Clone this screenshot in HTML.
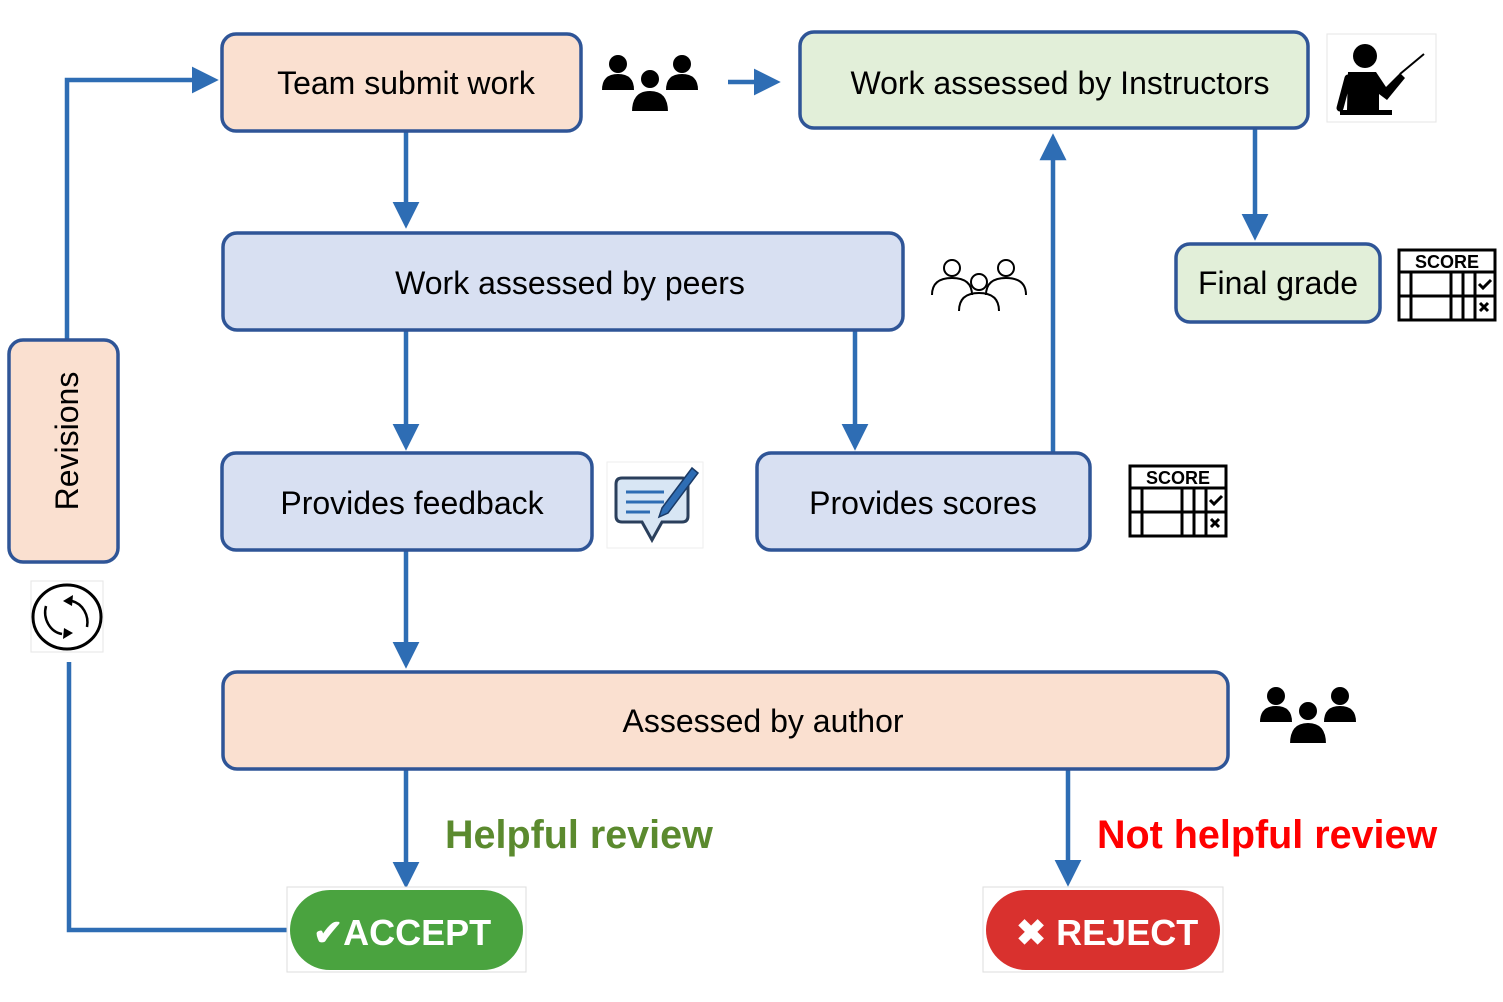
<!DOCTYPE html>
<html><head><meta charset="utf-8"><style>
html,body{margin:0;padding:0;background:#fff;}
svg{display:block;font-family:"Liberation Sans",Arial,sans-serif;}
</style></head><body>
<svg width="1503" height="1002" viewBox="0 0 1503 1002" xmlns="http://www.w3.org/2000/svg">
<defs>
<marker id="ah" markerWidth="6" markerHeight="6" refX="4.5" refY="3" orient="auto" markerUnits="strokeWidth"><path d="M0,0 L6,3 L0,6 z" fill="#2e6db4"/></marker>
<g id="score">
<rect x="0" y="0" width="96" height="70" fill="#fff" stroke="#000" stroke-width="3"/>
<line x1="0" y1="22" x2="96" y2="22" stroke="#000" stroke-width="3"/>
<line x1="0" y1="46" x2="96" y2="46" stroke="#000" stroke-width="3"/>
<line x1="12" y1="22" x2="12" y2="70" stroke="#000" stroke-width="3"/>
<line x1="52" y1="22" x2="52" y2="70" stroke="#000" stroke-width="3"/>
<line x1="64" y1="22" x2="64" y2="70" stroke="#000" stroke-width="3"/>
<line x1="76" y1="22" x2="76" y2="70" stroke="#000" stroke-width="3"/>
<text x="48" y="18" text-anchor="middle" font-size="18" font-weight="bold" fill="#000">SCORE</text>
<path d="M80,34 l4,4 l8,-8" stroke="#000" stroke-width="3" fill="none"/>
<path d="M81,53 l8,8 M89,53 l-8,8" stroke="#000" stroke-width="3"/>
</g>
<g id="team">
<circle cx="16" cy="12" r="9" fill="#000"/><path d="M0,38 q0,-16 16,-16 q16,0 16,16z" fill="#000"/>
<circle cx="80" cy="12" r="9" fill="#000"/><path d="M64,38 q0,-16 16,-16 q16,0 16,16z" fill="#000"/>
<circle cx="48" cy="27" r="10" fill="#000" stroke="#fff" stroke-width="2"/><path d="M29,60 q0,-22 19,-22 q19,0 19,22z" fill="#000" stroke="#fff" stroke-width="2"/>
</g>
</defs>

<g stroke="#2e6db4" stroke-width="4.5" fill="none">
<path d="M406,131 V222" marker-end="url(#ah)"/>
<path d="M67,340 V80 H212" marker-end="url(#ah)"/>
<path d="M728,82 H774" marker-end="url(#ah)"/>
<path d="M1053,452 V140" marker-end="url(#ah)"/>
<path d="M1255,128 V234" marker-end="url(#ah)"/>
<path d="M406,330 V444" marker-end="url(#ah)"/>
<path d="M855,330 V444" marker-end="url(#ah)"/>
<path d="M406,550 V662" marker-end="url(#ah)"/>
<path d="M406,769 V882" marker-end="url(#ah)"/>
<path d="M1068,769 V880" marker-end="url(#ah)"/>
<path d="M69,662 V930 H290"/>
</g>

<g stroke="#2f5597" stroke-width="3.5">
<rect x="222" y="34" width="359" height="97" rx="14" fill="#fae0d0"/>
<rect x="800" y="32" width="508" height="96" rx="14" fill="#e2efd9"/>
<rect x="223" y="233" width="680" height="97" rx="14" fill="#d8e0f2"/>
<rect x="222" y="453" width="370" height="97" rx="14" fill="#d8e0f2"/>
<rect x="757" y="453" width="333" height="97" rx="14" fill="#d8e0f2"/>
<rect x="1176" y="244" width="204" height="78" rx="14" fill="#e2efd9"/>
<rect x="223" y="672" width="1005" height="97" rx="14" fill="#fae0d0"/>
<rect x="9" y="340" width="109" height="222" rx="14" fill="#fae0d0"/>
</g>

<g font-size="32" fill="#000" text-anchor="middle">
<text x="406" y="94">Team submit work</text>
<text x="1060" y="94">Work assessed by Instructors</text>
<text x="570" y="294">Work assessed by peers</text>
<text x="412" y="514">Provides feedback</text>
<text x="923" y="514">Provides scores</text>
<text x="1278" y="294">Final grade</text>
<text x="763" y="732">Assessed by author</text>
<text transform="translate(78,441) rotate(-90)">Revisions</text>
</g>

<text x="445" y="848" font-size="39.5" font-weight="bold" fill="#5b8a2e">Helpful review</text>
<text x="1097" y="848" font-size="39.5" font-weight="bold" fill="#ff0000">Not helpful review</text>

<rect x="287" y="887" width="239" height="85" fill="#fff" stroke="#ddd" stroke-width="1"/>
<rect x="290" y="890" width="233" height="80" rx="40" fill="#4aa33f"/>
<text x="313" y="945" font-size="36" font-weight="bold" fill="#fff">✔ACCEPT</text>
<rect x="983" y="887" width="240" height="85" fill="#fff" stroke="#ddd" stroke-width="1"/>
<rect x="986" y="890" width="234" height="80" rx="40" fill="#d9312e"/>
<text x="1016" y="945" font-size="36" font-weight="bold" fill="#fff">✖ REJECT</text>

<use href="#team" x="602" y="52"/>
<use href="#team" x="1260" y="684"/>

<rect x="1327" y="34" width="109" height="88" fill="#fff" stroke="#e5e5e5"/>
<circle cx="1365" cy="56" r="12" fill="#000"/>
<path d="M1348,72 h28 l10,15 l14,-14 l5,5 l-18,22 l-8,-6 v16 h-32 z" fill="#000"/>
<path d="M1340,108 l8,-30" stroke="#000" stroke-width="7" stroke-linecap="round"/>
<line x1="1400" y1="74" x2="1424" y2="54" stroke="#000" stroke-width="2"/>
<rect x="1340" y="110" width="52" height="5" fill="#000"/>

<g stroke="#000" stroke-width="2" fill="none">
<circle cx="952" cy="268" r="8"/><path d="M932,295 q0,-17 20,-17 q20,0 20,17"/>
<circle cx="1006" cy="268" r="8"/><path d="M986,295 q0,-17 20,-17 q20,0 20,17"/>
<circle cx="979" cy="282" r="8"/><path d="M959,311 q0,-18 20,-18 q20,0 20,18"/>
</g>

<use href="#score" x="1399" y="250"/>
<use href="#score" x="1130" y="466"/>

<rect x="607" y="462" width="96" height="86" fill="#fff" stroke="#eee"/>
<path d="M622,478 h60 q6,0 6,6 v32 q0,6 -6,6 h-20 l-10,18 l-10,-18 h-20 q-6,0 -6,-6 v-32 q0,-6 6,-6z" fill="#d8e6f4" stroke="#2a3f5c" stroke-width="3"/>
<g stroke="#2e6db4" stroke-width="3"><line x1="626" y1="492" x2="664" y2="492"/><line x1="626" y1="502" x2="664" y2="502"/><line x1="626" y1="512" x2="650" y2="512"/></g>
<path d="M662,508 l30,-40 l6,5 l-30,40 l-9,4z" fill="#2e6db4" stroke="#1a3a66" stroke-width="1.5"/>

<rect x="31" y="581" width="72" height="71" fill="#fff" stroke="#e5e5e5"/>
<ellipse cx="67" cy="617" rx="34" ry="32" fill="none" stroke="#000" stroke-width="3"/>
<path d="M72,601 a20,22 0 0 1 15,26" fill="none" stroke="#000" stroke-width="2.5"/>
<path d="M62,634 a20,22 0 0 1 -16,-28" fill="none" stroke="#000" stroke-width="2.5"/>
<path d="M63,601 l10,-6 l-1,11z M73,633 l-10,6 l1,-11z" fill="#000"/>
</svg>
</body></html>
